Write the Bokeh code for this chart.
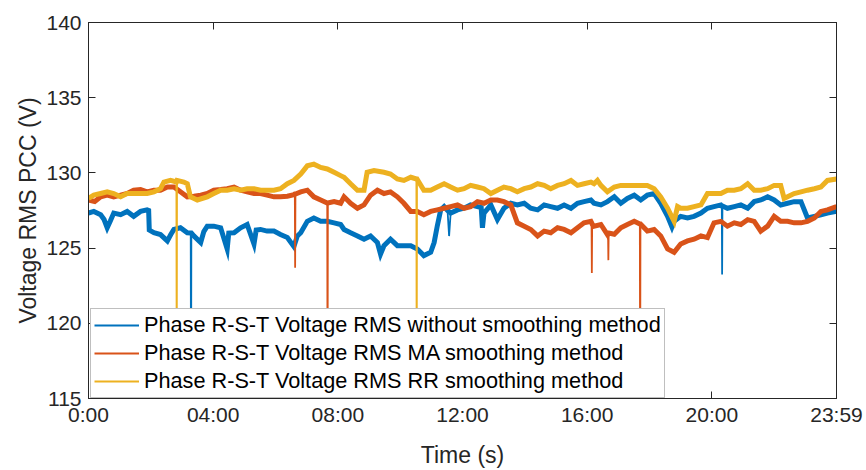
from bokeh.plotting import figure
from bokeh.models import Range1d, FixedTicker, LinearAxis, Legend, LegendItem
from bokeh.embed import file_html
from bokeh.resources import INLINE

# ---------------- data (hours, volts) ----------------
blue_h = [0.0, 0.17, 0.39, 0.5, 0.6, 0.7, 0.81, 1.03, 1.24, 1.45, 1.67, 1.88, 1.93, 1.95, 2.1, 2.31, 2.53, 2.64,
          2.74, 2.95, 3.17, 3.28, 3.29, 3.30, 3.38, 3.6, 3.7, 3.81, 4.02, 4.24, 4.45, 4.5, 4.67, 4.88, 5.09, 5.31,
          5.38, 5.52, 5.73, 5.95, 6.16, 6.38, 6.59, 6.7, 6.81, 7.02, 7.23, 7.45, 7.66, 7.88, 8.09, 8.2, 8.41, 8.63,
          8.84, 9.05, 9.27, 9.37, 9.48, 9.69, 9.91, 10.12, 10.34, 10.55, 10.76, 10.98, 11.09, 11.19, 11.3, 11.41,
          11.52, 11.57, 11.62, 11.84, 12.05, 12.26, 12.48, 12.6, 12.64, 12.69, 12.91, 13.12, 13.33, 13.55, 13.76,
          13.98, 14.19, 14.41, 14.62, 14.83, 15.05, 15.26, 15.48, 15.69, 15.9, 16.12, 16.22, 16.44, 16.65, 16.87,
          17.08, 17.29, 17.51, 17.72, 17.93, 18.15, 18.36, 18.58, 18.72, 18.79, 19.0, 19.22, 19.43, 19.65, 19.86,
          20.07, 20.29, 20.32, 20.33, 20.34, 20.5, 20.72, 20.93, 21.15, 21.36, 21.57, 21.79, 22.0, 22.21, 22.43,
          22.64, 22.86, 23.07, 23.29, 23.5, 23.71, 24.0]
blue_v = [127.33, 127.44, 127.22, 126.9, 126.35, 126.8, 127.33, 127.22, 127.44, 127.11, 127.44, 127.54, 127.5,
          126.2, 126.02, 125.9, 125.48, 125.9, 126.24, 126.35, 126.02, 126.0, 114.0, 126.0, 125.81, 125.37, 126.1,
          126.46, 126.46, 126.35, 124.94, 126.0, 126.02, 126.35, 126.57, 125.27, 126.2, 126.24, 126.13, 126.13,
          125.9, 125.7, 125.1, 125.8, 126.02, 126.78, 127.0, 126.78, 126.78, 126.68, 126.57, 126.24, 126.02,
          125.81, 125.59, 125.81, 125.37, 124.6, 125.16, 125.59, 125.16, 125.16, 125.16, 124.94, 124.5, 124.72,
          125.37, 126.46, 127.54, 127.76, 127.5, 125.8, 127.33, 127.54, 127.65, 127.87, 127.76, 127.7, 126.35,
          127.33, 127.87, 126.9, 127.65, 127.98, 127.87, 127.98, 127.65, 127.54, 127.87, 127.76, 127.65, 127.87,
          127.65, 127.98, 128.09, 128.2, 127.98, 127.87, 128.09, 128.41, 127.98, 128.3, 128.52, 128.2, 128.52,
          128.63, 127.98, 127.11, 126.4, 126.78, 127.11, 127.0, 127.11, 127.33, 127.65, 127.76, 127.87, 127.8,
          123.25, 127.8, 127.65, 127.76, 127.87, 127.65, 128.09, 128.2, 128.41, 128.2, 127.87, 127.98, 128.09,
          128.09, 127.0, 127.11, 127.22, 127.33, 127.44]

orange_h = [0.0, 0.2, 0.39, 0.6, 0.81, 1.03, 1.24, 1.45, 1.67, 1.88, 2.1, 2.31, 2.53, 2.74, 2.95, 3.17, 3.38, 3.6,
            3.81, 4.02, 4.24, 4.45, 4.67, 4.88, 5.09, 5.31, 5.52, 5.73, 5.95, 6.16, 6.38, 6.59, 6.62, 6.63, 6.64,
            6.81, 7.02, 7.23, 7.45, 7.66, 7.67, 7.68, 7.88, 8.09, 8.2, 8.41, 8.63, 8.84, 9.05, 9.27, 9.48, 9.69,
            9.91, 10.12, 10.34, 10.55, 10.76, 10.98, 11.19, 11.41, 11.62, 11.84, 12.05, 12.26, 12.48, 12.69, 12.91,
            13.12, 13.33, 13.55, 13.76, 13.98, 14.19, 14.41, 14.62, 14.83, 15.05, 15.26, 15.48, 15.69, 15.9, 16.12,
            16.14, 16.15, 16.16, 16.22, 16.44, 16.65, 16.67, 16.68, 16.69, 16.87, 17.08, 17.29, 17.51, 17.69, 17.7,
            17.71, 17.93, 18.15, 18.36, 18.58, 18.79, 19.0, 19.22, 19.43, 19.65, 19.86, 20.07, 20.29, 20.5, 20.72,
            20.93, 21.15, 21.36, 21.57, 21.79, 22.0, 22.21, 22.43, 22.64, 22.86, 23.07, 23.29, 23.5, 23.71, 24.0]
orange_v = [128.2, 128.1, 128.41, 128.52, 128.41, 128.52, 128.63, 128.85, 128.89, 128.74, 128.85, 128.85, 129.06,
            129.06, 128.74, 128.41, 128.45, 128.52, 128.63, 128.85, 128.89, 128.95, 129.06, 128.85, 128.74, 128.63,
            128.63, 128.52, 128.41, 128.41, 128.45, 128.55, 128.6, 123.7, 128.6, 128.74, 128.85, 128.41, 128.2,
            128.0, 114.0, 128.0, 128.09, 127.98, 128.41, 127.98, 127.65, 127.87, 128.52, 128.85, 128.63, 128.74,
            128.41, 127.98, 127.44, 127.44, 127.22, 127.44, 127.54, 127.65, 127.76, 127.87, 127.65, 127.76, 128.09,
            127.98, 128.2, 128.2, 128.09, 127.87, 126.68, 126.46, 126.24, 125.81, 126.13, 126.02, 126.35, 126.24,
            126.02, 126.35, 126.68, 126.78, 126.7, 123.35, 126.6, 126.46, 126.57, 125.9, 126.0, 124.2, 126.0,
            125.92, 126.35, 126.57, 126.78, 126.6, 114.0, 126.6, 126.13, 126.24, 125.81, 124.94, 124.72, 125.27,
            125.48, 125.59, 125.81, 125.7, 126.68, 126.78, 126.46, 126.68, 126.57, 126.89, 126.78, 126.13, 126.46,
            127.11, 126.78, 126.78, 126.68, 126.68, 126.78, 127.0, 127.44, 127.54, 127.76]

yellow_h = [0.0, 0.17, 0.39, 0.6, 0.81, 1.03, 1.24, 1.45, 1.67, 1.88, 2.1, 2.31, 2.42, 2.63, 2.82, 2.83, 2.84,
            3.06, 3.17, 3.27, 3.49, 3.81, 4.02, 4.24, 4.45, 4.67, 4.88, 5.09, 5.31, 5.52, 5.73, 5.95, 6.16, 6.38,
            6.59, 6.81, 7.02, 7.23, 7.45, 7.66, 7.88, 8.09, 8.2, 8.41, 8.63, 8.84, 8.94, 9.16, 9.48, 9.69, 9.91,
            10.12, 10.34, 10.52, 10.53, 10.54, 10.76, 10.98, 11.19, 11.41, 11.62, 11.84, 12.05, 12.26, 12.48, 12.69,
            12.91, 13.12, 13.33, 13.55, 13.76, 13.98, 14.19, 14.41, 14.62, 14.83, 15.05, 15.26, 15.48, 15.69, 15.9,
            16.12, 16.22, 16.33, 16.44, 16.65, 16.87, 17.08, 17.29, 17.51, 17.72, 17.93, 18.15, 18.36, 18.58, 18.79,
            18.9, 19.0, 19.22, 19.43, 19.65, 19.86, 20.07, 20.29, 20.5, 20.72, 20.93, 21.15, 21.36, 21.57, 21.79,
            22.0, 22.21, 22.32, 22.43, 22.64, 22.86, 23.07, 23.29, 23.5, 23.71, 24.0]
yellow_v = [128.3, 128.52, 128.63, 128.74, 128.63, 128.41, 128.63, 128.63, 128.63, 128.63, 128.74, 128.95, 129.39,
            129.5, 129.4, 114.0, 129.5, 129.39, 129.28, 128.41, 128.2, 128.41, 128.63, 128.85, 128.85, 128.95,
            128.85, 128.95, 128.95, 128.85, 128.85, 128.85, 128.95, 129.28, 129.5, 129.93, 130.47, 130.58, 130.36,
            130.26, 130.04, 129.82, 129.71, 129.28, 128.85, 128.85, 130.04, 130.15, 130.04, 129.93, 129.6, 129.5,
            129.71, 129.6, 114.0, 129.6, 128.85, 128.85, 129.06, 129.28, 129.06, 128.85, 128.95, 129.17, 129.06,
            128.95, 128.63, 128.85, 129.06, 128.95, 128.74, 128.95, 129.06, 129.28, 129.17, 128.95, 129.17, 129.28,
            129.5, 129.17, 129.28, 129.39, 129.28, 129.5, 129.17, 128.74, 129.06, 129.17, 129.17, 129.17, 129.17,
            129.17, 128.95, 128.41, 127.65, 126.78, 127.76, 127.65, 127.65, 127.76, 127.87, 128.63, 128.63, 128.63,
            128.85, 128.85, 128.95, 129.28, 128.85, 128.85, 128.95, 129.17, 129.17, 128.3, 128.41, 128.63, 128.74,
            128.85, 128.95, 129.06, 129.5, 129.6]

x_ticks = [0, 4, 8, 12, 16, 20, 24]
x_tick_labels = ["0:00", "04:00", "08:00", "12:00", "16:00", "20:00", "23:59"]
y_ticks = [115, 120, 125, 130, 135, 140]

series_labels = ["Phase R-S-T Voltage RMS without smoothing method",
                 "Phase R-S-T Voltage RMS MA smoothing method",
                 "Phase R-S-T Voltage RMS RR smoothing method"]
colors = ["#0072BD", "#D95319", "#EDB120"]

# ---------------- figure ----------------
FONT = "Liberation Sans"
AX = "#262626"

p = figure(width=866, height=470, output_backend="svg", toolbar_location=None,
           x_range=Range1d(0, 24), y_range=Range1d(115, 140))
p.min_border_left = 88
p.min_border_right = 30
p.min_border_top = 22
p.min_border_bottom = 64
p.background_fill_color = "white"
p.border_fill_color = "white"
p.outline_line_color = AX
p.outline_line_width = 1
p.xgrid.visible = False
p.ygrid.visible = False


def without_spikes(hx, vy):
    """Drop isolated one-sample spikes so the noisy band can be drawn wide."""
    keep_h, keep_v = [], []
    for i in range(len(vy)):
        if 0 < i < len(vy) - 1 and vy[i] < vy[i - 1] - 1.5 and vy[i] < vy[i + 1] - 1.5:
            continue
        keep_h.append(hx[i])
        keep_v.append(vy[i])
    return keep_h, keep_v


legend_renderers = []
for hx, vy, c in [(blue_h, blue_v, colors[0]), (orange_h, orange_v, colors[1]), (yellow_h, yellow_v, colors[2])]:
    # full trace (with spikes) drawn thin; also provides the legend sample
    legend_renderers.append(p.line(hx, vy, line_color=c, line_width=1.8))
    # the noisy band drawn wide
    bh, bv = without_spikes(hx, vy)
    p.line(bh, bv, line_color=c, line_width=5.0, line_join="miter")

xover = {t: l for t, l in zip(x_ticks, x_tick_labels)}

for ax in [p.xaxis[0], p.yaxis[0]]:
    ax.axis_line_color = AX
    ax.major_tick_line_color = AX
    ax.major_tick_in = 7
    ax.major_tick_out = 0
    ax.minor_tick_line_color = None
    ax.major_label_text_font = FONT
    ax.major_label_text_font_size = "21px"
    ax.major_label_text_color = AX
    ax.axis_label_text_font = FONT
    ax.axis_label_text_font_size = "23px"
    ax.axis_label_text_font_style = "normal"
    ax.axis_label_text_color = AX

p.xaxis[0].ticker = FixedTicker(ticks=x_ticks)
p.xaxis[0].major_label_overrides = xover
p.xaxis[0].major_label_standoff = 4
p.xaxis[0].axis_label = "Time (s)"
p.xaxis[0].axis_label_standoff = 13

p.yaxis[0].ticker = FixedTicker(ticks=y_ticks)
p.yaxis[0].major_label_standoff = 7
p.yaxis[0].axis_label = "Voltage RMS PCC (V)"
p.yaxis[0].axis_label_standoff = 2

top = LinearAxis(ticker=FixedTicker(ticks=x_ticks))
right = LinearAxis(ticker=FixedTicker(ticks=y_ticks))
for ax in [top, right]:
    ax.axis_line_color = AX
    ax.major_tick_line_color = AX
    ax.major_tick_in = 7
    ax.major_tick_out = 0
    ax.minor_tick_line_color = None
    ax.major_label_text_font_size = "1px"
    ax.major_label_text_color = None
    ax.major_label_standoff = 0
p.add_layout(top, "above")
p.add_layout(right, "right")

legend = Legend(items=[LegendItem(label=series_labels[i], renderers=[legend_renderers[i]]) for i in range(3)],
                location=(2, 0))
legend.label_text_font = FONT
legend.label_text_font_size = "21.7px"
legend.label_text_color = "#000000"
legend.border_line_color = "#7f7f7f"
legend.border_line_width = 1.5
legend.background_fill_color = "white"
legend.background_fill_alpha = 1.0
legend.glyph_width = 45
legend.glyph_height = 20
legend.label_height = 20
legend.label_standoff = 5
legend.spacing = 2
legend.padding = 3
legend.margin = 0
p.add_layout(legend, "center")

open("out.html", "w").write(file_html(p, INLINE))
